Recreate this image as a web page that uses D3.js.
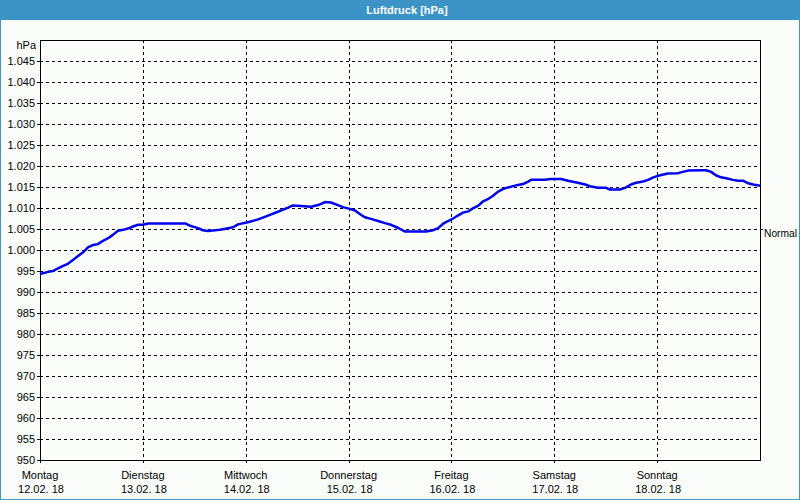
<!DOCTYPE html>
<html>
<head>
<meta charset="utf-8">
<script src="https://cdn.jsdelivr.net/npm/d3@7"></script>
<style>
  html, body { margin: 0; padding: 0; background: #fbfdfb; }
  svg { display: block; }
  text { font-family: "Liberation Sans", Arial, sans-serif; font-size: 11px; fill: #000; }
</style>
</head>
<body>
<svg id="chart" width="800" height="500"></svg>
<script>
const title = "Luftdruck [hPa]";
const unitLabel = "hPa";
const dayNames = ["Montag", "Dienstag", "Mittwoch", "Donnerstag", "Freitag", "Samstag", "Sonntag"];
const dayDates = ["12.02. 18", "13.02. 18", "14.02. 18", "15.02. 18", "16.02. 18", "17.02. 18", "18.02. 18"];
const dayStartHours = [0, 24, 48, 72, 96, 120, 144];
const yTicks = [950, 955, 960, 965, 970, 975, 980, 985, 990, 995, 1000, 1005, 1010, 1015, 1020, 1025, 1030, 1035, 1040, 1045];
const normalLabel = "Normal";
const normalValue = 1005;

// hours since Monday 12.02.18 00:00
const hours = [0,1.9,3,4.2,5.4,6.5,7.7,8.9,10,11.2,12.4,13.5,14.7,15.9,17,18.2,19.4,20.5,21.7,22.9,
  24,25.2,34,35.2,36.9,38,39.2,40.8,42,43.9,45,46.2,48.5,50.9,53.2,55.5,57.9,59,60.9,63.2,
  64.9,66.5,67.9,69.5,70.7,72.3,73.5,74.7,75.8,77.2,78.9,80.5,81.9,83.5,85.2,87.5,90.1,91.7,92.9,94,
  95.2,96.4,97.5,98.7,99.9,101,102.2,103.4,104.5,105.7,106.9,108,109.2,110.4,111.5,112.7,113.9,114.6,117.8,119.2,
  121.6,123.2,125.5,127.2,128.6,130.2,132.1,133,135.3,136.5,137.9,139.1,140.7,141.9,143.1,144.7,146.5,148.9,150,151.2,
  154.7,155.4,156.6,157.7,158.9,160.1,161.7,162.9,164,165.2,166.4,168];
const pressure = [994.3,994.8,995.0,995.6,996.2,996.7,997.6,998.6,999.4,1000.6,1001.2,1001.4,1002.2,1002.8,1003.6,1004.6,1004.8,1005.1,1005.6,1006.0,
  1006.0,1006.3,1006.3,1005.7,1005.2,1004.7,1004.5,1004.7,1004.8,1005.2,1005.4,1006.1,1006.6,1007.3,1008.2,1009.1,1010.1,1010.6,1010.5,1010.3,
  1010.7,1011.4,1011.3,1010.7,1010.2,1009.8,1009.4,1008.5,1007.8,1007.4,1006.9,1006.4,1006.0,1005.3,1004.4,1004.4,1004.4,1004.7,1005.2,1006.2,
  1006.9,1007.5,1008.2,1008.9,1009.2,1009.9,1010.5,1011.6,1012.1,1012.9,1013.9,1014.5,1014.9,1015.2,1015.5,1015.7,1016.3,1016.7,1016.7,1016.9,
  1016.9,1016.5,1016.0,1015.6,1015.1,1014.8,1014.8,1014.4,1014.4,1014.8,1015.6,1016.0,1016.3,1016.7,1017.3,1017.8,1018.2,1018.3,1018.6,1018.9,
  1019.0,1019.0,1018.6,1017.8,1017.3,1017.1,1016.7,1016.5,1016.5,1015.9,1015.6,1015.3];

const W = 800, H = 500;
const m = { left: 40, right: 40, top: 40, bottom: 40 };
const svg = d3.select("#chart");

const x = d3.scaleLinear().domain([0, 168]).range([m.left, W - m.right]);
const y = d3.scaleLinear().domain([950, 1050]).range([H - m.bottom, m.top]);

const de = d3.formatLocale({ decimal: ",", thousands: ".", grouping: [3], currency: ["", " €"] });
const fmt = de.format(",");

// background
svg.append("rect").attr("x", 0).attr("y", 0).attr("width", W).attr("height", H).attr("fill", "#fbfdfb");
// title bar
svg.append("rect").attr("x", 0).attr("y", 0).attr("width", W).attr("height", 20).attr("fill", "#3c93c6");
svg.append("text").attr("x", 407).attr("y", 14).attr("text-anchor", "middle")
  .style("font-weight", "bold").style("fill", "#fff").text(title);

// grid
const grid = svg.append("g").attr("stroke", "#000").attr("stroke-dasharray", "3,3").attr("shape-rendering", "crispEdges");
grid.selectAll("line.h").data(yTicks.filter(v => v > 950)).join("line")
  .attr("x1", x(0)).attr("x2", x(168)).attr("y1", d => Math.round(y(d)) + 0.5).attr("y2", d => Math.round(y(d)) + 0.5);
grid.selectAll("line.v").data(dayStartHours.filter(h => h > 0)).join("line")
  .attr("x1", d => Math.round(x(d)) + 0.5).attr("x2", d => Math.round(x(d)) + 0.5).attr("y1", y(1050)).attr("y2", y(950));

// Y axis
const yAxis = d3.axisLeft(y).tickValues(yTicks).tickSize(3).tickSizeOuter(0).tickPadding(2).tickFormat(fmt);
const gy = svg.append("g").attr("transform", `translate(${m.left},0)`).call(yAxis);
gy.select(".domain").remove();
gy.selectAll("line").attr("stroke", "#000").attr("shape-rendering", "crispEdges");
gy.selectAll("text").style("font-family", "Liberation Sans, Arial, sans-serif").style("font-size", "11px").attr("fill", "#000");

svg.append("text").attr("x", 36).attr("y", 49).attr("text-anchor", "end").text(unitLabel);

// X axis
const xAxis = d3.axisBottom(x).tickValues(dayStartHours).tickSize(3).tickSizeOuter(0).tickFormat("");
const gx = svg.append("g").attr("transform", `translate(0,${H - m.bottom})`).call(xAxis);
gx.select(".domain").remove();
gx.selectAll("line").attr("stroke", "#000").attr("shape-rendering", "crispEdges");
const lbl = svg.append("g").selectAll("g").data(dayStartHours).join("g");
lbl.append("text").attr("x", d => x(d)).attr("y", 479).attr("text-anchor", "middle").text((d, i) => dayNames[i]);
lbl.append("text").attr("x", d => x(d) + 1).attr("y", 493).attr("text-anchor", "middle").text((d, i) => dayDates[i]);

// plot frame
svg.append("rect").attr("x", m.left + 0.5).attr("y", m.top + 0.5)
  .attr("width", W - m.left - m.right).attr("height", H - m.top - m.bottom)
  .attr("fill", "none").attr("stroke", "#000").attr("shape-rendering", "crispEdges");

// right "Normal" marker
const ny = Math.round(y(normalValue)) + 0.5;
svg.append("line").attr("x1", W - m.right).attr("x2", W - m.right + 3).attr("y1", ny).attr("y2", ny)
  .attr("stroke", "#000").attr("shape-rendering", "crispEdges");
svg.append("text").attr("x", 764).attr("y", ny + 7)
  .attr("textLength", 33).attr("lengthAdjust", "spacingAndGlyphs").text(normalLabel);

// data line
const line = d3.line().x((d, i) => x(hours[i])).y(d => y(d));
svg.append("path").datum(pressure).attr("d", line)
  .attr("fill", "none").attr("stroke", "#0000f0").attr("stroke-width", 2.5).attr("stroke-linejoin", "round");

// outer border
svg.append("rect").attr("x", 0.5).attr("y", 0.5).attr("width", W - 1).attr("height", H - 1)
  .attr("fill", "none").attr("stroke", "#3c93c6");
</script>
</body>
</html>
